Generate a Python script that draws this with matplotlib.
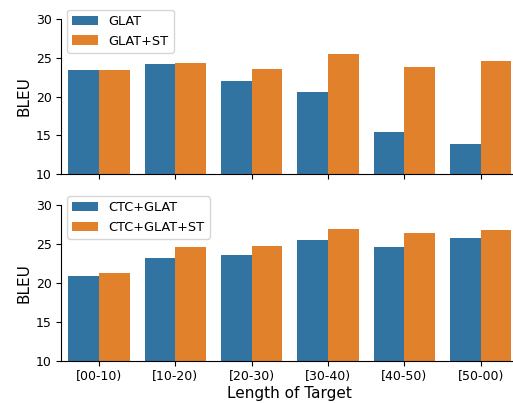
import pandas as pd
import matplotlib
matplotlib.use('Agg')
import matplotlib.pyplot as plt
import seaborn as sns

# BLEU by target length
lengths = ['[00-10)', '[10-20)', '[20-30)', '[30-40)', '[40-50)', '[50-00)']
glat = [23.4, 24.2, 22.0, 20.6, 15.4, 13.9]
glat_st = [23.4, 24.3, 23.5, 25.5, 23.8, 24.6]
ctc_glat = [20.9, 23.2, 23.6, 25.6, 24.7, 25.8]
ctc_glat_st = [21.3, 24.7, 24.8, 27.0, 26.5, 26.8]


def to_frame(a, b, name_a, name_b):
    return pd.DataFrame({
        'Length of Target': lengths * 2,
        'BLEU': a + b,
        'Model': [name_a] * len(a) + [name_b] * len(b),
    })


top = to_frame(glat, glat_st, 'GLAT', 'GLAT+ST')
bottom = to_frame(ctc_glat, ctc_glat_st, 'CTC+GLAT', 'CTC+GLAT+ST')

fig = plt.figure(figsize=(5.13, 4.03), dpi=100)
ax1 = fig.add_axes([0.1185, 0.568, 0.893, 0.385])
ax2 = fig.add_axes([0.1185, 0.1035, 0.893, 0.387])

sns.barplot(data=top, x='Length of Target', y='BLEU', hue='Model', ax=ax1)
sns.barplot(data=bottom, x='Length of Target', y='BLEU', hue='Model', ax=ax2)

for ax in (ax1, ax2):
    ax.set_ylim(10, 30)
    ax.set_yticks([10, 15, 20, 25, 30])
    ax.set_ylabel('BLEU', fontsize=11, labelpad=3)
    ax.tick_params(labelsize=9, length=3.5, pad=3)
    ax.spines['top'].set_visible(False)
    ax.spines['right'].set_visible(False)
    ax.legend(loc='upper left', fontsize=9.3, bbox_to_anchor=(0.0, 1.1))

ax1.set_xlabel('')
ax1.set_xticklabels([])
ax2.set_xlabel('Length of Target', fontsize=11, labelpad=2)

fig.savefig('out.png', dpi=100)
